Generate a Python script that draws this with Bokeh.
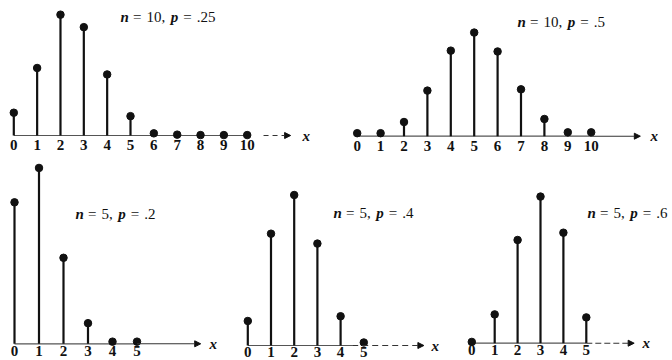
from bokeh.plotting import figure
from bokeh.layouts import column, row
from bokeh.models import Range1d, Label, Arrow, NormalHead, ColumnDataSource
from bokeh.core.properties import value
from bokeh.embed import file_html
from bokeh.resources import INLINE

# ---- data ----
k10 = [0, 1, 2, 3, 4, 5, 6, 7, 8, 9, 10]
k5 = [0, 1, 2, 3, 4, 5]
labels10 = ["0", "1", "2", "3", "4", "5", "6", "7", "8", "9", "10"]
labels5 = ["0", "1", "2", "3", "4", "5"]
p_10_25 = [0.053, 0.157, 0.281, 0.252, 0.142, 0.045, 0.005, 0.002, 0.001, 0.001, 0.001]
p_10_50 = [0.007, 0.007, 0.033, 0.106, 0.199, 0.241, 0.197, 0.109, 0.040, 0.009, 0.009]
p_5_20 = [0.329, 0.409, 0.200, 0.048, 0.005, 0.005]
p_5_40 = [0.057, 0.260, 0.350, 0.237, 0.068, 0.007]
p_5_60 = [0.003, 0.067, 0.240, 0.341, 0.257, 0.060]
titles = [("10", ".25"), ("10", ".5"), ("5", ".2"), ("5", ".4"), ("5", ".6")]

SERIF = "Liberation Serif"
K = 430.0  # px per unit probability

panels = [
    dict(k=k10, lab=labels10, v=p_10_25, box=(0, 0, 330, 160), X0=13.3, S=23.34, B=135.0,
         solid_end=10.0, arr=(10.7, 11.86), arr_dash="5 4", xlab=302, title=(120, 16), loff=9),
    dict(k=k10, lab=labels10, v=p_10_50, box=(330, 0, 342, 160), X0=356.7, S=23.4, B=135.7,
         solid_end=10.0, arr=(10.0, 12.1), arr_dash="solid", xlab=650, title=(517, 21), loff=10),
    dict(k=k5, lab=labels5, v=p_5_20, box=(0, 160, 228, 200), X0=14.0, S=24.5, B=343.3,
         solid_end=5.0, arr=(5.0, 7.6), arr_dash="solid", xlab=209, title=(75, 213), loff=7),
    dict(k=k5, lab=labels5, v=p_5_40, box=(228, 160, 224, 200), X0=247.3, S=23.2, B=345.0,
         solid_end=4.5, arr=(4.5, 7.59), arr_dash="6 4", xlab=431, title=(333, 212), loff=6),
    dict(k=k5, lab=labels5, v=p_5_60, box=(452, 160, 220, 200), X0=471.3, S=22.9, B=342.7,
         solid_end=5.0, arr=(5.0, 7.09), arr_dash="6 3", xlab=642, title=(587, 212), loff=7),
]

figs = []
for i, pn in enumerate(panels):
    L, T, W, H = pn["box"]
    X0, S, B = pn["X0"], pn["S"], pn["B"]
    px = lambda x: (x - X0) / S
    py = lambda y: (B - y) / K
    p = figure(width=W, height=H, output_backend="svg", toolbar_location=None,
               x_range=Range1d(px(L), px(L + W)), y_range=Range1d(py(T + H), py(T)),
               min_border=0)
    p.axis.visible = False
    p.grid.visible = False
    p.outline_line_color = None

    # baseline and arrow
    p.segment(x0=[0], y0=[0], x1=[pn["solid_end"]], y1=[0], line_color="#555555", line_width=1.2)
    a0, a1 = pn["arr"]
    p.add_layout(Arrow(x_start=a0, y_start=0, x_end=a1, y_end=0,
                       line_color="#333333", line_width=1.1, line_dash=pn["arr_dash"],
                       end=NormalHead(size=6, fill_color="#111111", line_color="#111111")))

    src = ColumnDataSource(dict(k=pn["k"], v=pn["v"], zero=[0] * len(pn["k"]), lab=pn["lab"]))
    p.segment(x0="k", y0="zero", x1="k", y1="v", source=src, line_color="#111111", line_width=2.2)
    p.scatter(x="k", y="v", source=src, size=7.5, fill_color="#111111", line_color="#111111")
    p.text(x="k", y="zero", text="lab", source=src, y_offset=pn["loff"],
           text_align="center", text_baseline="middle",
           text_font=value(SERIF), text_font_size="15px", text_font_style="bold",
           text_color="#111111")
    p.add_layout(Label(x=px(pn["xlab"]), y=0, text="x", text_font=SERIF, text_font_size="15px",
                       text_font_style="bold italic", text_baseline="middle", text_align="left",
                       text_color="#111111"))
    # title "n = .., p = .." built from pieces (italic variables)
    tx, ty = pn["title"]
    nval, pval = titles[i]
    off_p = 26.0 + 7.5 * len(nval) + 3.75 + 5.5
    pieces = [("n", "bold italic", 0.0), ("=", "normal", 12.5), ("%s," % nval, "normal", 26.0),
              ("p", "bold italic", off_p), ("=", "normal", off_p + 12.5), (pval, "normal", off_p + 26.0)]
    for txt, style, off in pieces:
        p.add_layout(Label(x=px(tx), y=py(ty), x_offset=off, text=txt, text_font=SERIF,
                           text_font_size="15px", text_font_style=style,
                           text_baseline="middle", text_align="left", text_color="#111111"))
    figs.append(p)

layout = column(row(figs[0], figs[1], spacing=0), row(figs[2], figs[3], figs[4], spacing=0), spacing=0)
open("out.html", "w").write(file_html(layout, INLINE))
